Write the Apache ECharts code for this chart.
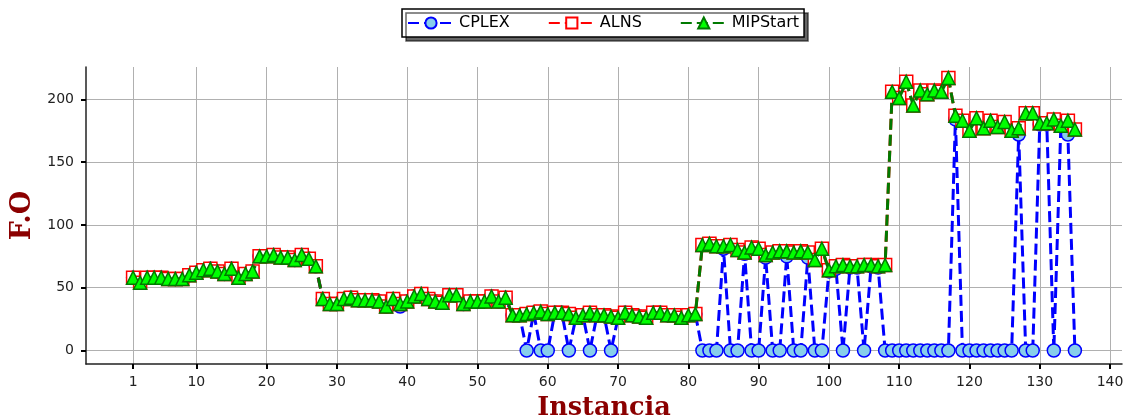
<!DOCTYPE html>
<html><head><meta charset="utf-8">
<script src="https://cdn.jsdelivr.net/npm/echarts@6/dist/echarts.min.js"></script>
<style>html,body{margin:0;padding:0;background:#fff}#c{width:1128px;height:419px}</style>
</head><body><div id="c"></div>
<script>
// Instances 1..135
const instances = Array.from({length: 135}, (_, i) => i + 1);

const mipstart = [
  58,54,58,58,58,57,57,57,60,62,64,65,63,61,65,58,61,63,75,75,76,74,74,72,76,73,67,
  41,37,37,41,42,40,40,40,39,35,41,37,39,43,45,41,39,38,44,44,37,39,39,39,43,39,42,
  28,28,29,30,31,29,30,30,29,26,28,30,28,28,27,26,30,28,27,26,30,30,28,28,26,28,29,
  84,85,83,83,84,80,78,82,81,76,78,79,79,78,79,78,72,81,64,67,68,67,67,68,68,67,68,
  206,201,214,195,207,204,207,206,217,187,183,175,185,177,183,178,182,175,177,189,189,181,181,184,179,183,176
];

const alns = [
  58,54,58,58,58,57,57,57,60,62,64,65,63,61,65,58,61,63,75,75,76,74,74,72,76,73,67,
  41,37,37,41,42,40,40,40,39,35,41,37,39,43,45,41,39,38,44,44,37,39,39,39,43,39,42,
  28,28,29,30,31,29,30,30,29,26,28,30,28,28,27,26,30,28,27,26,30,30,28,28,26,28,29,
  84,85,83,83,84,80,78,82,81,76,78,79,79,78,79,78,72,81,64,67,68,67,67,68,68,67,68,
  206,201,214,195,207,204,207,206,217,187,183,175,185,177,183,178,182,175,177,189,189,181,181,184,179,183,176
];

const cplex = [
  58,54,58,58,58,57,57,57,60,62,64,65,63,61,65,58,61,63,75,75,76,74,74,72,76,73,67,
  41,37,37,41,42,40,40,40,39,35,41,35,39,43,45,41,39,38,44,44,37,39,39,39,43,39,42,
  28,28,0,30,0,0,30,30,0,26,28,0,28,28,0,26,30,28,27,26,30,30,28,28,26,28,29,
  0,0,0,81,0,0,77,0,0,74,0,0,75,0,0,74,0,0,63,65,0,66,66,0,67,66,0,
  0,0,0,0,0,0,0,0,0,184,0,0,0,0,0,0,0,0,172,0,0,180,180,0,179,172,0
];

const xTicks = [1,10,20,30,40,50,60,70,80,90,100,110,120,130,140];
const yTicks = [0,50,100,150,200];

const pair = arr => instances.map((x, i) => [x, arr[i]]);

const dash = [11, 5];
const chart = echarts.init(document.getElementById('c'), null, {renderer: 'canvas'});
chart.setOption({
  animation: false,
  backgroundColor: '#ffffff',
  grid: {left: 86, right: 6, top: 67, bottom: 55, containLabel: false, outerBoundsMode: 'none'},
  legend: {
    top: 9, left: 402,
    padding: [6, 5],
    itemWidth: 46, itemHeight: 14, itemGap: 38,
    backgroundColor: '#ffffff',
    borderColor: '#000000', borderWidth: 1.5, borderRadius: 0,
    shadowColor: 'rgba(0,0,0,0.6)', shadowBlur: 0, shadowOffsetX: 4, shadowOffsetY: 4,
    textStyle: {fontFamily: 'DejaVu Sans', fontSize: 16, color: '#000'},
    data: ['CPLEX', 'ALNS', 'MIPStart']
  },
  xAxis: {
    type: 'value', min: -5.7, max: 141.7,
    name: 'Instancia', nameLocation: 'middle', nameGap: 31,
    nameTextStyle: {fontFamily: 'DejaVu Serif', fontWeight: 'bold', fontSize: 25.5, color: '#8b0000'},
    axisLine: {show: true, onZero: false, lineStyle: {color: '#222', width: 1.5}},
    axisTick: {show: true, inside: false, length: 5, lineStyle: {color: '#000', width: 2}, customValues: xTicks},
    axisLabel: {customValues: xTicks, margin: 11, fontFamily: 'DejaVu Sans', fontSize: 14, color: '#222'},
    splitLine: {show: true, lineStyle: {color: '#b0b0b0', width: 1}}
  },
  yAxis: {
    type: 'value', min: -10.75, max: 225.75,
    name: 'F.O', nameLocation: 'middle', nameGap: 50, nameRotate: 90,
    nameTextStyle: {fontFamily: 'DejaVu Serif', fontWeight: 'bold', fontSize: 27, color: '#8b0000'},
    axisLine: {show: true, onZero: false, lineStyle: {color: '#222', width: 1.5}},
    axisTick: {show: true, inside: false, length: 5, lineStyle: {color: '#000', width: 2}, customValues: yTicks},
    axisLabel: {customValues: yTicks, margin: 12, fontFamily: 'DejaVu Sans', fontSize: 14, color: '#222'},
    splitLine: {show: true, lineStyle: {color: '#b0b0b0', width: 1}}
  },
  series: [
    {
      name: 'CPLEX', type: 'line', data: pair(cplex),
      symbol: 'circle', symbolSize: 13,
      lineStyle: {color: '#0000ff', width: 3, type: dash},
      itemStyle: {color: '#87ceeb', borderColor: '#0000ff', borderWidth: 1.5},
      z: 2
    },
    {
      name: 'ALNS', type: 'line', data: pair(alns),
      symbol: 'rect', symbolSize: 13,
      lineStyle: {color: '#ff0000', width: 3, type: dash},
      itemStyle: {color: '#ffffff', borderColor: '#ff0000', borderWidth: 1.5},
      z: 3
    },
    {
      name: 'MIPStart', type: 'line', data: pair(mipstart),
      symbol: 'triangle', symbolSize: 13,
      lineStyle: {color: '#007a00', width: 3, type: dash},
      itemStyle: {color: '#00ff00', borderColor: '#007a00', borderWidth: 1.5},
      z: 4
    }
  ]
});
</script>
</body></html>
